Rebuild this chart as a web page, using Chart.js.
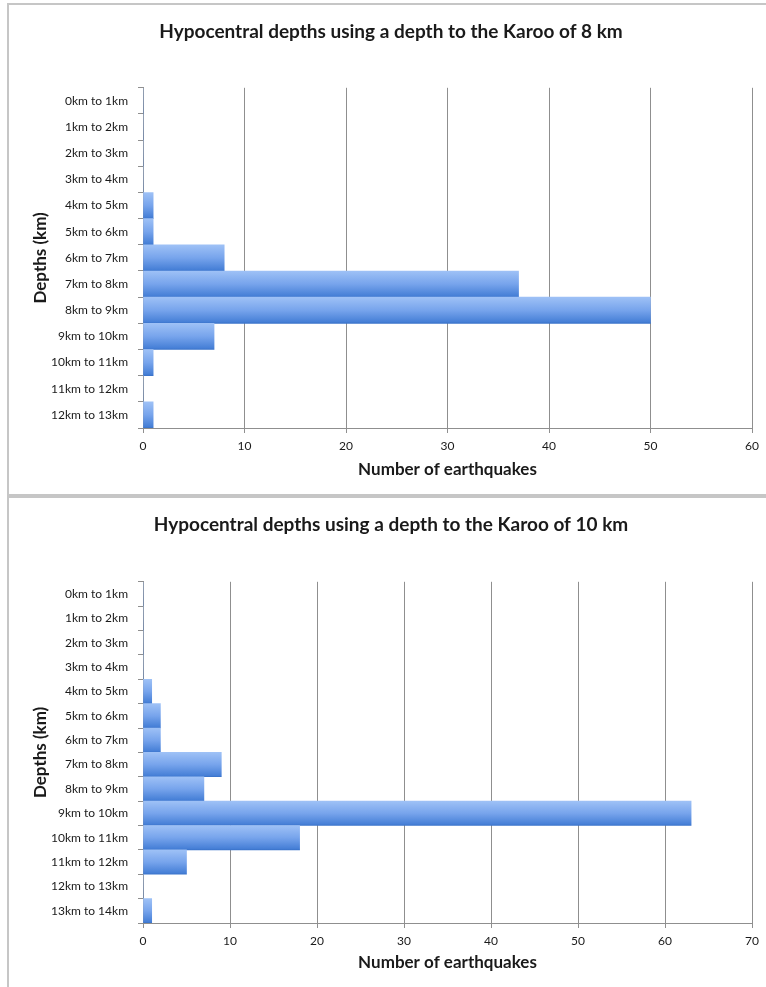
<!DOCTYPE html>
<html>
<head>
<meta charset="utf-8">
<title>Hypocentral depths</title>
<script src="https://cdn.jsdelivr.net/npm/chart.js@4.4.1/dist/chart.umd.min.js"></script>
<style>
  html, body { margin: 0; padding: 0; background: #fff; overflow: hidden; }
  .frame {
    position: absolute;
    left: 7px;
    width: 800px;
    border: 2px solid #c6c6c6;
    border-right: none;
    box-sizing: border-box;
  }
  canvas { position: absolute; left: 30px; }
</style>
</head>
<body>
<div class="frame" style="top:3px;height:493px;"></div>
<div class="frame" style="top:496px;height:520px;"></div>
<canvas id="chart8" width="736" height="495" style="top:0;"></canvas>
<canvas id="chart10" width="736" height="490" style="top:497px;"></canvas>
<script>
// Depth bins and earthquake counts, Karoo at 8 km
const depthBins8 = ['0km to 1km', '1km to 2km', '2km to 3km', '3km to 4km', '4km to 5km',
  '5km to 6km', '6km to 7km', '7km to 8km', '8km to 9km', '9km to 10km',
  '10km to 11km', '11km to 12km', '12km to 13km'];
const quakeCounts8 = [0, 0, 0, 0, 1, 1, 8, 37, 50, 7, 1, 0, 1];

// Depth bins and earthquake counts, Karoo at 10 km
const depthBins10 = ['0km to 1km', '1km to 2km', '2km to 3km', '3km to 4km', '4km to 5km',
  '5km to 6km', '6km to 7km', '7km to 8km', '8km to 9km', '9km to 10km',
  '10km to 11km', '11km to 12km', '12km to 13km', '13km to 14km'];
const quakeCounts10 = [0, 0, 0, 0, 1, 2, 2, 9, 7, 63, 18, 5, 0, 1];

const FONT = 'Lato, "Open Sans", sans-serif';
const TEXT = '#1a1a1a';
const GRID = '#8f8f8f';

// Vertical blue gradient across each bar's own band
const barFill = (context) => {
  const chart = context.chart;
  const yScale = chart.scales.y;
  if (!chart.chartArea || !yScale) return '#6b9ee8';
  const band = (yScale.bottom - yScale.top) / chart.data.labels.length;
  const mid = yScale.getPixelForValue(context.dataIndex);
  const g = chart.ctx.createLinearGradient(0, mid - band / 2, 0, mid + band / 2);
  g.addColorStop(0, '#9ec1f6');
  g.addColorStop(0.5, '#77a4ec');
  g.addColorStop(0.94, '#4780d7');
  g.addColorStop(1, '#3a73ca');
  return g;
};

const makeChart = (id, labels, counts, titleText, xMax, box) => {
  return new Chart(document.getElementById(id).getContext('2d'), {
    type: 'bar',
    data: {
      labels: labels,
      datasets: [{
        data: counts,
        backgroundColor: barFill,
        borderWidth: 0,
        categoryPercentage: 1,
        barPercentage: 1,
      }],
    },
    options: {
      indexAxis: 'y',
      responsive: false,
      animation: false,
      layout: { padding: { left: 0, right: 14, top: 0, bottom: 0 } },
      plugins: {
        legend: { display: false },
        tooltip: { enabled: false },
        title: {
          display: true,
          text: titleText,
          color: TEXT,
          font: { family: FONT, size: 19, weight: 'bold' },
          padding: { top: box.titleTop, bottom: box.titleBottom },
        },
      },
      scales: {
        x: {
          min: 0,
          max: xMax,
          ticks: {
            stepSize: 10,
            color: TEXT,
            padding: 6,
            font: { family: FONT, size: 12 },
          },
          grid: { color: GRID, tickLength: 5 },
          border: { color: GRID },
          title: {
            display: true,
            text: 'Number of earthquakes',
            color: TEXT,
            font: { family: FONT, size: 17, weight: 'bold' },
            padding: { top: 0, bottom: box.xTitleBottom },
          },
          afterFit: (scale) => { scale.height = box.xHeight; },
        },
        y: {
          ticks: {
            color: TEXT,
            padding: 10,
            font: { family: FONT, size: 12 },
          },
          grid: { drawOnChartArea: false, color: GRID, tickLength: 5, offset: true },
          border: { color: GRID },
          title: {
            display: true,
            text: 'Depths (km)',
            color: TEXT,
            font: { family: FONT, size: 17, weight: 'bold' },
            padding: { top: 0, bottom: 0 },
          },
          afterFit: (scale) => { scale.width = 113; },
        },
      },
    },
  });
};

makeChart('chart8', depthBins8, quakeCounts8,
  'Hypocentral depths using a depth to the Karoo of 8 km', 60,
  { titleTop: 20, titleBottom: 45, xHeight: 67, xTitleBottom: 15 });

makeChart('chart10', depthBins10, quakeCounts10,
  'Hypocentral depths using a depth to the Karoo of 10 km', 70,
  { titleTop: 16, titleBottom: 46, xHeight: 64, xTitleBottom: 14 });
</script>
</body>
</html>
